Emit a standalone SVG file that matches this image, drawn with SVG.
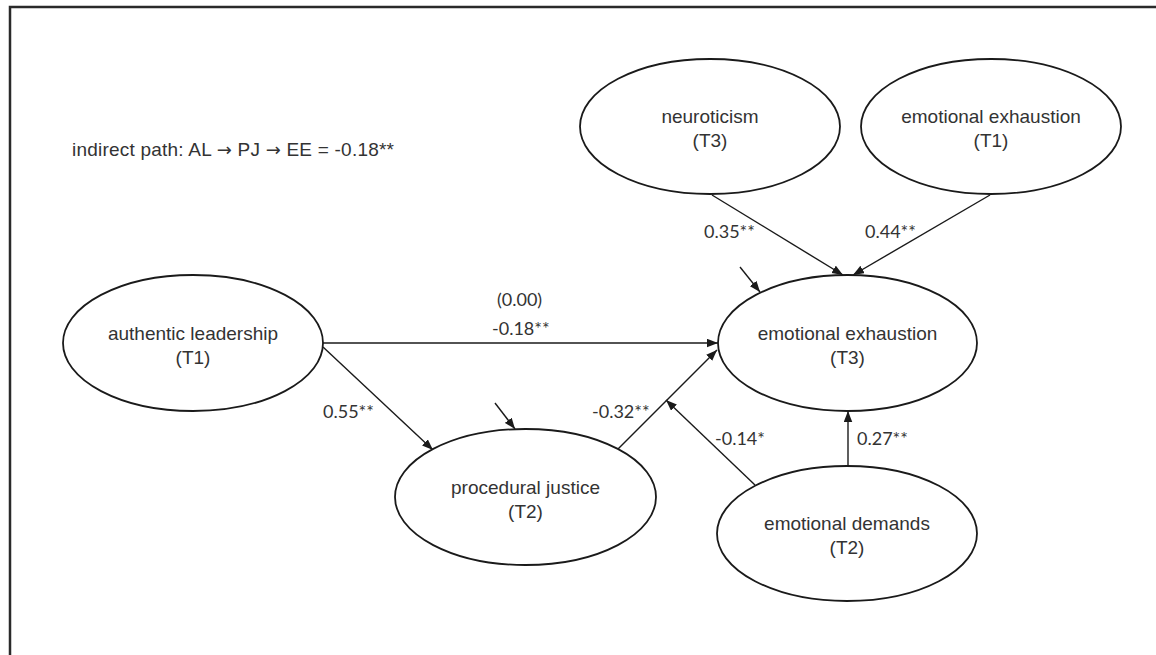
<svg xmlns="http://www.w3.org/2000/svg" width="1156" height="655" viewBox="0 0 1156 655">
<style>
.node ellipse{fill:#fff;stroke:#1a1a1a;stroke-width:1.8}
.node text{font-family:"Liberation Sans",Arial,sans-serif;font-size:19px;fill:#333;text-anchor:middle}
.edge{stroke:#1a1a1a;stroke-width:1.4;fill:none;marker-end:url(#ah)}
.lbl{font-family:Lato,"Open Sans",sans-serif;font-size:18px;fill:#333}
.note{font-family:"Liberation Sans",Arial,sans-serif;font-size:19px;fill:#333}
.arr{font-family:"DejaVu Sans",sans-serif;font-size:18px}
</style>
<defs>
<marker id="ah" markerUnits="userSpaceOnUse" markerWidth="12" markerHeight="9" refX="11" refY="4.25" orient="auto">
<path d="M0,0 L11,4.25 L0,8.5 z" fill="#1a1a1a"/>
</marker>
</defs>
<rect width="1156" height="655" fill="#fff"/>
<path d="M10,655 V7 H1156" fill="none" stroke="#2a2a2a" stroke-width="2.5"/>
<text class="note" x="72" y="156" textLength="322" lengthAdjust="spacing">indirect path: AL <tspan class="arr">→</tspan> PJ <tspan class="arr">→</tspan> EE = -0.18**</text>
<g id="connectors">
<line class="edge" x1="712" y1="195" x2="843" y2="275"/>
<line class="edge" x1="990" y1="195" x2="853" y2="275"/>
<line class="edge" x1="323" y1="343" x2="718" y2="343"/>
<line class="edge" x1="323" y1="347" x2="433" y2="450"/>
<line class="edge" x1="618" y1="449" x2="717" y2="350"/>
<line class="edge" x1="755" y1="485" x2="666" y2="400"/>
<line class="edge" x1="848" y1="466" x2="848" y2="411"/>
<line class="edge" x1="740" y1="267" x2="760" y2="292"/>
<line class="edge" x1="495" y1="403" x2="515" y2="429"/>
<text class="lbl" x="704" y="238">0.35**</text>
<text class="lbl" x="865" y="238">0.44**</text>
<text class="lbl" x="497" y="306">(0.00)</text>
<text class="lbl" x="492" y="335">-0.18**</text>
<text class="lbl" x="323" y="418">0.55**</text>
<text class="lbl" x="592" y="418">-0.32**</text>
<text class="lbl" x="715" y="445">-0.14*</text>
<text class="lbl" x="857" y="445">0.27**</text>
</g>
<g id="neuroticism" class="node">
<ellipse cx="710" cy="126.5" rx="130" ry="67.5"/>
<text x="710" y="122.5">neuroticism</text>
<text x="710" y="146.5">(T3)</text>
</g>
<g id="ee_t1" class="node">
<ellipse cx="991" cy="126.5" rx="130" ry="67.5"/>
<text x="991" y="122.5">emotional exhaustion</text>
<text x="991" y="146.5">(T1)</text>
</g>
<g id="authentic_leadership" class="node">
<ellipse cx="193" cy="343" rx="130" ry="68"/>
<text x="193" y="339.5">authentic leadership</text>
<text x="193" y="363.5">(T1)</text>
</g>
<g id="ee_t3" class="node">
<ellipse cx="847.5" cy="343" rx="129.5" ry="68"/>
<text x="847.5" y="339.5">emotional exhaustion</text>
<text x="847.5" y="363.5">(T3)</text>
</g>
<g id="procedural_justice" class="node">
<ellipse cx="525.5" cy="497" rx="130.5" ry="68"/>
<text x="525.5" y="494">procedural justice</text>
<text x="525.5" y="518">(T2)</text>
</g>
<g id="emotional_demands" class="node">
<ellipse cx="847" cy="533.5" rx="130" ry="67.5"/>
<text x="847" y="529.5">emotional demands</text>
<text x="847" y="553.5">(T2)</text>
</g>
</svg>
